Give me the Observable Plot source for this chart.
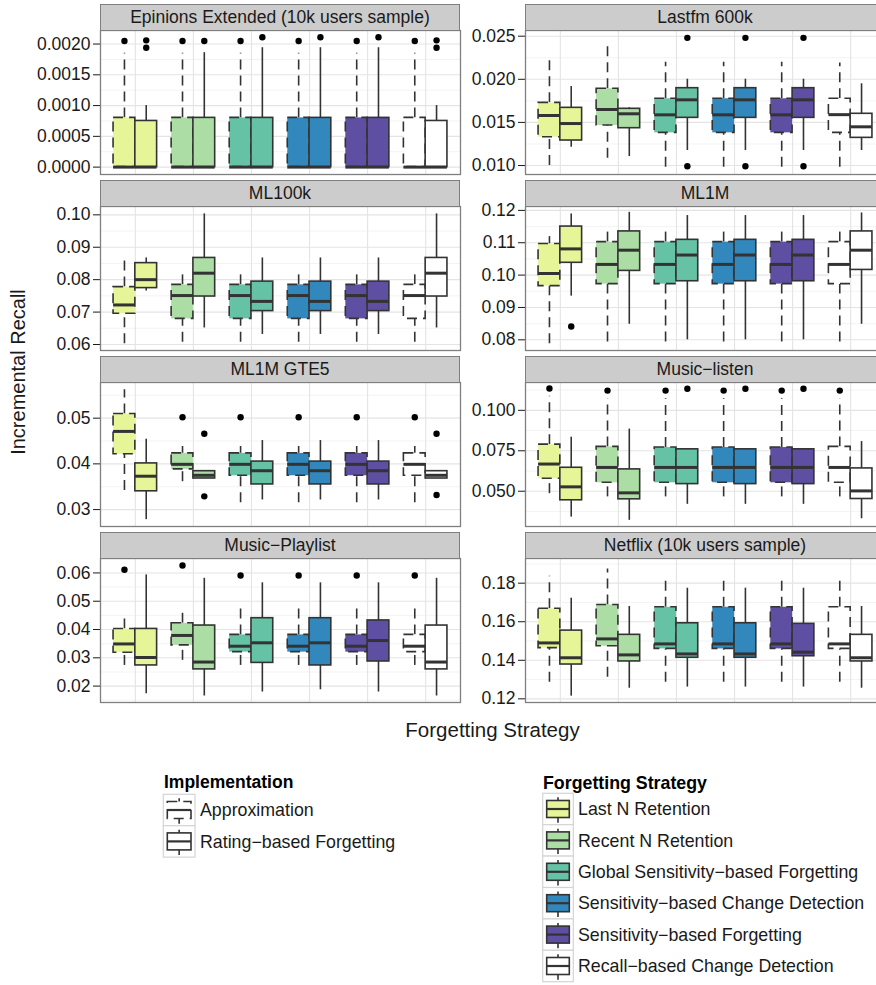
<!DOCTYPE html>
<html><head><meta charset="utf-8">
<script src="https://cdn.jsdelivr.net/npm/d3@7"></script>
<script src="https://cdn.jsdelivr.net/npm/@observablehq/plot@0.6"></script>
<style>
body{margin:0;background:#fff;}
#root{position:relative;width:876px;height:985px;overflow:hidden;background:#fff;font-family:"Liberation Sans",Arial,Helvetica,sans-serif;}
.strip{position:absolute;box-sizing:border-box;background:#cccccc;border:1px solid #7f7f7f;font-size:17.5px;color:#1a1a1a;display:flex;align-items:center;justify-content:center;white-space:nowrap;}
.panel{position:absolute;}
</style></head><body><div id="root"></div>
<script>
const strategies = ["Last N Retention","Recent N Retention","Global Sensitivity−based Forgetting","Sensitivity−based Change Detection","Sensitivity−based Forgetting","Recall−based Change Detection"];
const implementations = ["Approximation","Rating−based Forgetting"];
const fills = ["#e6f598","#abdda4","#66c2a5","#3288bd","#5e4fa2","#ffffff"];
const datasetNames = ["Epinions Extended (10k users sample)","Lastfm 600k","ML100k","ML1M","ML1M GTE5","Music−listen","Music−Playlist","Netflix (10k users sample)"];

// box stats per strategy: [lower whisker, q1, median, q3, upper whisker]
const epinionsApprox = [[0,0,0,0.0008,0.00185],[0,0,0,0.0008,0.00185],[0,0,0,0.0008,0.00185],[0,0,0,0.0008,0.00185],[0,0,0,0.0008,0.00185],[0,0,0,0.0008,0.00185]];
const epinionsRating = [[0,0,0,0.00075,0.001],[0,0,0,0.0008,0.00186],[0,0,0,0.0008,0.00194],[0,0,0,0.0008,0.00194],[0,0,0,0.0008,0.00194],[0,0,0,0.00075,0.001]];
const epinionsApproxOut = [[0.00205],[0.00205],[0.00205],[0.00205],[0.00205],[0.00205]];
const epinionsRatingOut = [[0.00206,0.00194],[0.00205],[0.00211],[0.00211],[0.00211],[0.00206,0.00194]];

const lastfmApprox = [[0.0100,0.01328,0.0158,0.01727,0.02276],[0.01085,0.01464,0.0165,0.0189,0.02411],[0.0098,0.01379,0.01588,0.01774,0.02198],[0.0098,0.01379,0.01588,0.01774,0.02198],[0.0098,0.01379,0.01588,0.01774,0.02198],[0.0098,0.01379,0.0159,0.01774,0.0219]];
const lastfmRating = [[0.01212,0.0129,0.01487,0.01669,0.01916],[0.01104,0.01433,0.016,0.01658,0.0167],[0.01174,0.01553,0.01762,0.01897,0.02001],[0.01174,0.01553,0.01762,0.01897,0.02001],[0.01174,0.01553,0.01762,0.01897,0.02001],[0.01174,0.01321,0.01449,0.016,0.01948]];
const lastfmApproxOut = [[],[],[],[],[],[]];
const lastfmRatingOut = [[],[],[0.02481,0.00992],[0.02481,0.00992],[0.02481,0.00992],[]];

const ml100kApprox = [[0.0602,0.0695,0.0722,0.0777,0.0859],[0.0607,0.0679,0.0751,0.0784,0.0828],[0.0607,0.0679,0.0751,0.0784,0.0828],[0.0607,0.0679,0.0751,0.0784,0.0828],[0.0607,0.0679,0.0751,0.0784,0.0828],[0.0607,0.0679,0.0751,0.0784,0.0828]];
const ml100kRating = [[0.0765,0.0774,0.0800,0.0851,0.0867],[0.0651,0.0748,0.0820,0.0867,0.1003],[0.0631,0.0703,0.0733,0.0794,0.0867],[0.0631,0.0703,0.0733,0.0794,0.0867],[0.0631,0.0703,0.0733,0.0794,0.0867],[0.0651,0.0748,0.0820,0.0867,0.1003]];
const ml100kApproxOut = [[],[],[],[],[],[]];
const ml100kRatingOut = [[],[],[],[],[],[]];

const ml1mApprox = [[0.0788,0.0966,0.1005,0.1096,0.1119],[0.0793,0.0972,0.1033,0.1102,0.1147],[0.0793,0.0972,0.1033,0.1102,0.1147],[0.0793,0.0972,0.1033,0.1102,0.1147],[0.0793,0.0972,0.1033,0.1102,0.1147],[0.0793,0.0972,0.1033,0.1102,0.1147]];
const ml1mRating = [[0.0935,0.1038,0.1081,0.1150,0.1189],[0.0848,0.1013,0.1077,0.1135,0.1194],[0.0800,0.0981,0.1062,0.1109,0.1184],[0.0800,0.0981,0.1062,0.1109,0.1184],[0.0800,0.0981,0.1062,0.1109,0.1184],[0.0848,0.1016,0.1077,0.1135,0.1192]];
const ml1mApproxOut = [[],[],[],[],[],[]];
const ml1mRatingOut = [[0.0841],[],[],[],[],[]];

const gte5Approx = [[0.0342,0.0421,0.0471,0.0509,0.0562],[0.0361,0.0388,0.0399,0.0423,0.0438],[0.0315,0.0374,0.0399,0.0423,0.0438],[0.0315,0.0374,0.0399,0.0423,0.0438],[0.0315,0.0374,0.0399,0.0423,0.0438],[0.0315,0.0374,0.0399,0.0423,0.0438]];
const gte5Rating = [[0.0278,0.0340,0.0373,0.0401,0.0454],[0.0368,0.0368,0.0375,0.0384,0.0384],[0.0321,0.0355,0.0385,0.0405,0.0451],[0.0321,0.0355,0.0385,0.0405,0.0451],[0.0321,0.0355,0.0385,0.0405,0.0451],[0.0368,0.0368,0.0375,0.0384,0.0384]];
const gte5ApproxOut = [[],[0.0502],[0.0502],[0.0502],[0.0502],[0.0502]];
const gte5RatingOut = [[],[0.0466,0.0329],[],[],[],[0.0466,0.0332]];

const listenApprox = [[0.0485,0.0577,0.0668,0.0788,0.1087],[0.0465,0.0552,0.0647,0.0774,0.1071],[0.0465,0.0552,0.0647,0.0770,0.1071],[0.0465,0.0552,0.0647,0.0770,0.1071],[0.0465,0.0552,0.0647,0.0770,0.1071],[0.0465,0.0552,0.0647,0.0774,0.1071]];
const listenRating = [[0.0340,0.0444,0.0527,0.0645,0.0834],[0.0320,0.0450,0.0490,0.0635,0.0884],[0.0419,0.0544,0.0647,0.0759,0.0759],[0.0419,0.0544,0.0647,0.0759,0.0759],[0.0419,0.0544,0.0647,0.0759,0.0759],[0.0330,0.0452,0.0502,0.0641,0.0807]];
const listenApproxOut = [[0.1135],[0.1122],[0.1122],[0.1122],[0.1122],[0.1122]];
const listenRatingOut = [[],[],[0.1133],[0.1133],[0.1133],[]];

const playlistApprox = [[0.0273,0.0318,0.0349,0.0402,0.0452],[0.0291,0.0344,0.0379,0.0422,0.0459],[0.0273,0.0320,0.0341,0.0381,0.0475],[0.0273,0.0320,0.0341,0.0381,0.0475],[0.0273,0.0320,0.0341,0.0381,0.0475],[0.0273,0.0320,0.0341,0.0381,0.0475]];
const playlistRating = [[0.0173,0.0273,0.0301,0.0402,0.0593],[0.0165,0.0259,0.0285,0.0414,0.0581],[0.0179,0.0282,0.0353,0.0440,0.0565],[0.0187,0.0273,0.0353,0.0440,0.0565],[0.0179,0.0287,0.0361,0.0432,0.0565],[0.0165,0.0259,0.0285,0.0414,0.0581]];
const playlistApproxOut = [[0.0611],[0.0626],[0.0591],[0.0591],[0.0591],[0.0591]];
const playlistRatingOut = [[],[],[],[],[],[]];

const netflixApprox = [[0.1286,0.1463,0.1490,0.1667,0.1836],[0.1312,0.1473,0.1511,0.1687,0.1874],[0.1286,0.1459,0.1485,0.1675,0.1836],[0.1286,0.1459,0.1485,0.1675,0.1836],[0.1286,0.1459,0.1485,0.1675,0.1836],[0.1286,0.1459,0.1485,0.1675,0.1836]];
const netflixRating = [[0.1214,0.1378,0.1413,0.1554,0.1722],[0.1255,0.1394,0.1428,0.1532,0.1679],[0.1261,0.1413,0.1433,0.1592,0.1774],[0.1261,0.1413,0.1433,0.1592,0.1774],[0.1261,0.1421,0.1442,0.1589,0.1774],[0.1255,0.1394,0.1413,0.1532,0.1679]];
const netflixApproxOut = [[],[],[],[],[],[]];
const netflixRatingOut = [[],[],[],[],[],[]];

const yDomains = [[-0.00012,0.00222],[0.00896,0.02566],[0.05815,0.10257],[0.0767,0.1212],[0.0263,0.0578],[0.0282,0.1172],[0.0142,0.0651],[0.1181,0.1928]];
const yTicks = [[0,0.0005,0.001,0.0015,0.002],[0.010,0.015,0.020,0.025],[0.06,0.07,0.08,0.09,0.10],[0.08,0.09,0.10,0.11,0.12],[0.03,0.04,0.05],[0.050,0.075,0.100],[0.02,0.03,0.04,0.05,0.06],[0.12,0.14,0.16,0.18]];
const tickDigits = [4,3,2,2,2,3,2,2];

const panels = [
  {approx: epinionsApprox, rating: epinionsRating, aOut: epinionsApproxOut, rOut: epinionsRatingOut},
  {approx: lastfmApprox, rating: lastfmRating, aOut: lastfmApproxOut, rOut: lastfmRatingOut},
  {approx: ml100kApprox, rating: ml100kRating, aOut: ml100kApproxOut, rOut: ml100kRatingOut},
  {approx: ml1mApprox, rating: ml1mRating, aOut: ml1mApproxOut, rOut: ml1mRatingOut},
  {approx: gte5Approx, rating: gte5Rating, aOut: gte5ApproxOut, rOut: gte5RatingOut},
  {approx: listenApprox, rating: listenRating, aOut: listenApproxOut, rOut: listenRatingOut},
  {approx: playlistApprox, rating: playlistRating, aOut: playlistApproxOut, rOut: playlistRatingOut},
  {approx: netflixApprox, rating: netflixRating, aOut: netflixApproxOut, rOut: netflixRatingOut}
];

const FONT = '"Liberation Sans", Arial, Helvetica, sans-serif';
const root = document.getElementById("root");
const dodge = 0.1875, hw = 0.1875, DASH = "10,6", INK = "#333333", LW = 1.6;

function boxMarks(data, dashed) {
  const d = dashed ? {strokeDasharray: DASH} : {};
  return [
    Plot.ruleX(data, {x: "x", y1: "lo", y2: "q1", stroke: INK, strokeWidth: LW, ...d}),
    Plot.ruleX(data, {x: "x", y1: "q3", y2: "hi", stroke: INK, strokeWidth: LW, ...d}),
    Plot.rect(data, {x1: r => r.x - hw, x2: r => r.x + hw, y1: "q1", y2: "q3", fill: "s", stroke: INK, strokeWidth: LW, ...d}),
    Plot.ruleY(data, {y: "med", x1: r => r.x - hw, x2: r => r.x + hw, stroke: INK, strokeWidth: 3})
  ];
}

panels.forEach((p, idx) => {
  const col = idx % 2, row = Math.floor(idx / 2);
  const panelTop = 30 + 176 * row;
  const left = col === 0 ? 0 : 440;
  const ml = col === 0 ? 100 : 85;
  const width = ml + 360 + 2;
  const boxes = [], outs = [];
  strategies.forEach((s, i) => {
    implementations.forEach((im, j) => {
      const st = (j === 0 ? p.approx : p.rating)[i];
      const x = i + 1 + (j === 0 ? -dodge : dodge);
      boxes.push({s, im, x, lo: st[0], q1: st[1], med: st[2], q3: st[3], hi: st[4]});
      (j === 0 ? p.aOut : p.rOut)[i].forEach(v => outs.push({s, im, x, v}));
    });
  });
  const ap = boxes.filter(b => b.im === implementations[0]);
  const rb = boxes.filter(b => b.im === implementations[1]);
  const ticks = yTicks[idx], dom = yDomains[idx];
  const step = ticks[1] - ticks[0];
  const minor = [];
  for (let k = -1; k < ticks.length; k++) {
    const v = ticks[0] + (k + 0.5) * step;
    if (v > dom[0] && v < dom[1]) minor.push(v);
  }
  const svg = Plot.plot({
    width, height: 148,
    marginLeft: ml, marginRight: 2, marginTop: 2, marginBottom: 2,
    style: {background: "transparent", overflow: "visible", maxWidth: "none", fontSize: "17.5px", fontFamily: FONT, color: "#1a1a1a"},
    x: {domain: [0.4, 6.6], axis: null},
    y: {domain: dom, ticks: ticks, tickFormat: v => v.toFixed(tickDigits[idx]), tickSize: 7, tickPadding: 3, label: null},
    color: {domain: strategies, range: fills},
    marks: [
      Plot.ruleY(minor, {stroke: "#f2f2f2", strokeWidth: 0.9}),
      Plot.ruleY(ticks, {stroke: "#e4e4e4", strokeWidth: 1.1}),
      Plot.ruleX(d3.range(1, strategies.length + 1), {stroke: "#e4e4e4", strokeWidth: 1.1}),
      ...boxMarks(ap, true),
      ...boxMarks(rb, false),
      Plot.dot(outs, {x: "x", y: "v", r: 3.2, fill: "#000", stroke: "none"}),
      Plot.frame({stroke: "#7f7f7f", strokeWidth: 1.3})
    ]
  });
  const div = document.createElement("div");
  div.className = "panel";
  div.style.left = left + "px";
  div.style.top = (panelTop - 2) + "px";
  div.style.width = width + "px";
  div.appendChild(svg);
  root.appendChild(div);

  const strip = document.createElement("div");
  strip.className = "strip";
  strip.style.left = (left + ml) + "px";
  strip.style.top = (4 + 176 * row) + "px";
  strip.style.width = "360px";
  strip.style.height = "27px";
  strip.textContent = datasetNames[idx];
  root.appendChild(strip);
});

// axis titles and legends
const ov = d3.select(root).append("svg")
  .attr("width", 876).attr("height", 985)
  .style("position", "absolute").style("left", 0).style("top", 0)
  .style("pointer-events", "none")
  .style("font-family", FONT);

ov.append("text").attr("transform", "translate(25,372) rotate(-90)")
  .attr("text-anchor", "middle").attr("font-size", 20).attr("fill", "#1a1a1a")
  .text("Incremental Recall");
ov.append("text").attr("x", 492.5).attr("y", 737)
  .attr("text-anchor", "middle").attr("font-size", 20.5).attr("fill", "#1a1a1a")
  .text("Forgetting Strategy");

function keyGlyph(x, y, w, h, fill, dashed) {
  const g = ov.append("g");
  const cx = x + w / 2, cy = y + h / 2;
  g.append("rect").attr("x", x).attr("y", y).attr("width", w).attr("height", h)
    .attr("fill", "#fff").attr("stroke", "#d4d4d4").attr("stroke-width", 1.2);
  const da = dashed ? DASH : null;
  g.append("line").attr("x1", cx).attr("x2", cx).attr("y1", y + 4).attr("y2", y + h - 2)
    .attr("stroke", INK).attr("stroke-width", LW).attr("stroke-dasharray", da);
  g.append("rect").attr("x", x + 4).attr("y", cy - 8.5).attr("width", w - 8).attr("height", 17)
    .attr("fill", fill).attr("stroke", INK).attr("stroke-width", LW).attr("stroke-dasharray", da);
  g.append("line").attr("x1", x + 4).attr("x2", x + w - 4).attr("y1", cy).attr("y2", cy)
    .attr("stroke", INK).attr("stroke-width", 2.2);
}

ov.append("text").attr("x", 164).attr("y", 788).attr("font-size", 17.5).attr("font-weight", "bold").attr("fill", "#000").text("Implementation");
implementations.forEach((im, j) => {
  const y = 794.3 + j * 31.4;
  keyGlyph(163.3, y, 31.7, 31.4, "#fff", j === 0);
  ov.append("text").attr("x", 200).attr("y", y + 15.7 + 6.2).attr("font-size", 17.8).attr("fill", "#1a1a1a").text(im);
});

ov.append("text").attr("x", 543).attr("y", 789).attr("font-size", 17.8).attr("font-weight", "bold").attr("fill", "#000").text("Forgetting Strategy");
strategies.forEach((s, i) => {
  const y = 793.3 + i * 31.4;
  keyGlyph(542.7, y, 30.6, 31.4, fills[i], false);
  ov.append("text").attr("x", 578).attr("y", y + 15.7 + 6.2).attr("font-size", 17.8).attr("fill", "#1a1a1a").text(s);
});
</script></body></html>
